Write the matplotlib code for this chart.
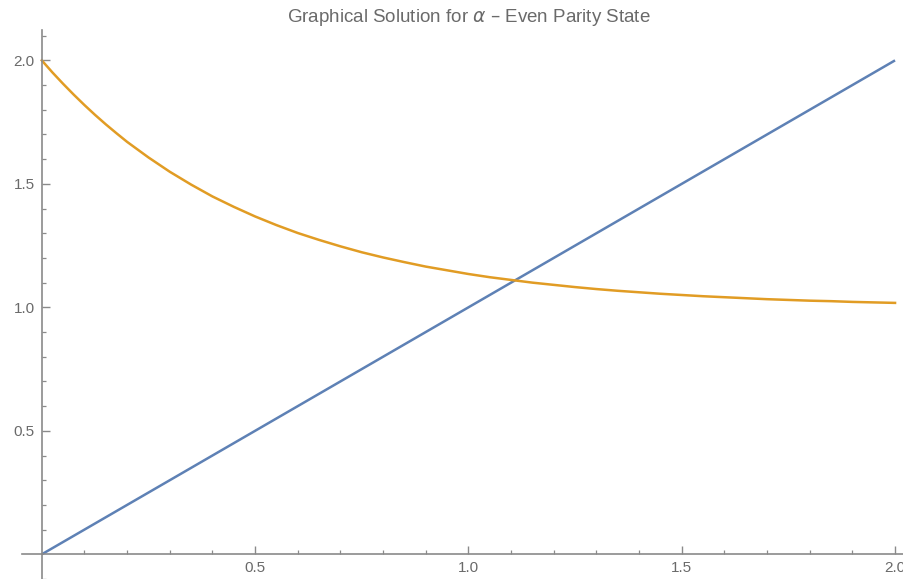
import matplotlib
matplotlib.use("Agg")
import matplotlib.pyplot as plt
from matplotlib.ticker import FixedLocator

# Data
line_x = [0.0, 2.0]
line_y = [0.0, 2.0]

curve_x = [0.000, 0.025, 0.050, 0.075, 0.100, 0.125, 0.150, 0.175, 0.200, 0.250,
           0.30, 0.35, 0.40, 0.45,
           0.50, 0.55, 0.60, 0.65, 0.70, 0.75, 0.80, 0.85, 0.90, 0.95,
           1.00, 1.05, 1.10, 1.15, 1.20, 1.25, 1.30, 1.35, 1.40, 1.45,
           1.50, 1.55, 1.60, 1.65, 1.70, 1.75, 1.80, 1.85, 1.90, 1.95, 2.00]
curve_y = [2.000, 1.951, 1.905, 1.861, 1.819, 1.779, 1.741, 1.705, 1.670, 1.607,
           1.549, 1.497, 1.449, 1.407,
           1.368, 1.333, 1.301, 1.273, 1.247, 1.223, 1.202, 1.183, 1.165, 1.150,
           1.135, 1.122, 1.111, 1.100, 1.091, 1.082, 1.074, 1.067, 1.061, 1.055,
           1.050, 1.045, 1.041, 1.037, 1.033, 1.030, 1.027, 1.025, 1.022, 1.020, 1.018]

major_ticks = [0.5, 1.0, 1.5, 2.0]
tick_labels = ["0.5", "1.0", "1.5", "2.0"]
title = r"Graphical Solution for $\alpha$ – Even Parity State"

plt.rcParams['font.family'] = ['Liberation Sans', 'DejaVu Sans']
plt.rcParams['mathtext.fontset'] = 'dejavusans'

W, H = 904, 579
fig = plt.figure(figsize=(W / 100, H / 100), dpi=100)
ax = fig.add_axes([22 / W, 0, (W - 22) / W, 549 / H])
ax.set_xlim(-0.0464, 2.021)
ax.set_ylim(-0.1, 2.123)

ax.plot(line_x, line_y, color='#5E81B5', lw=1.8, solid_capstyle='butt')
ax.plot(curve_x, curve_y, color='#E19C24', lw=1.8)

axis_col = '#8a8a8a'
for s in ['top', 'right']:
    ax.spines[s].set_visible(False)
for s in ['left', 'bottom']:
    ax.spines[s].set_position(('data', 0))
    ax.spines[s].set_color(axis_col)
    ax.spines[s].set_linewidth(1.2)

ax.xaxis.set_major_locator(FixedLocator(major_ticks))
ax.yaxis.set_major_locator(FixedLocator(major_ticks))
ax.set_xticklabels(tick_labels)
ax.set_yticklabels(tick_labels)
ax.xaxis.set_minor_locator(FixedLocator([0.1, 0.2, 0.3, 0.4, 0.6, 0.7, 0.8, 0.9,
                                          1.1, 1.2, 1.3, 1.4, 1.6, 1.7, 1.8, 1.9]))
ax.yaxis.set_minor_locator(FixedLocator([-0.1, 0.1, 0.2, 0.3, 0.4, 0.6, 0.7, 0.8, 0.9,
                                          1.1, 1.2, 1.3, 1.4, 1.6, 1.7, 1.8, 1.9, 2.1]))
ax.tick_params(which='major', direction='in', length=5.5, width=1.0, color=axis_col,
               labelsize=11, labelcolor='#6a6a6a')
ax.tick_params(which='minor', direction='in', length=3, width=0.9, color=axis_col)
ax.tick_params(axis='x', which='both', pad=5)
ax.tick_params(axis='y', which='both', pad=5)
ax.patch.set_alpha(0)

fig.text(469 / W, 1 - 17 / H, title, ha='center', va='center', fontsize=13.5, color='#6a6a6a')

fig.savefig('out.png', dpi=100)
